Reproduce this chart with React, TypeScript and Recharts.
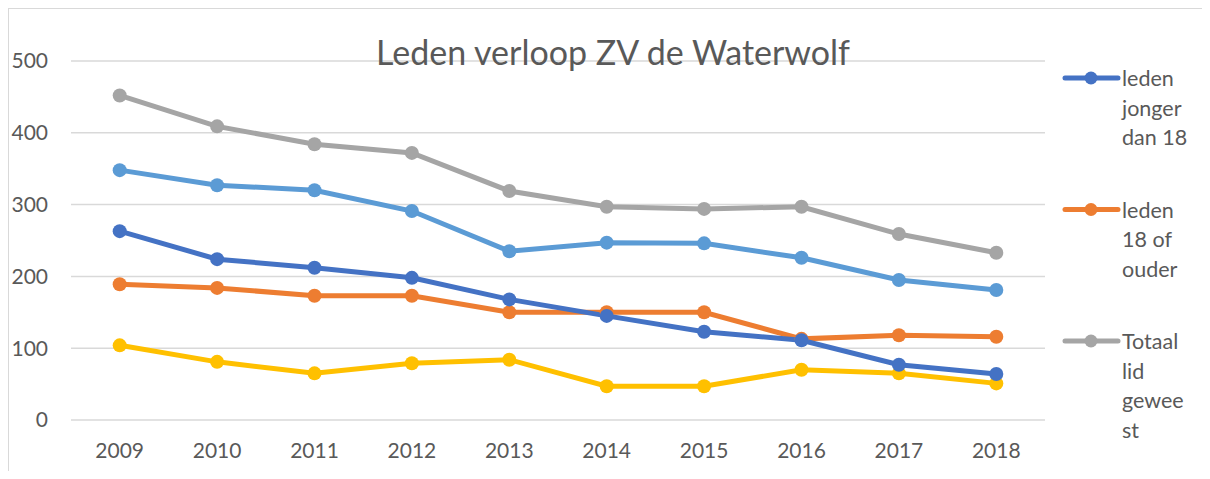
import { LineChart, Line, XAxis, YAxis, CartesianGrid, Legend } from "recharts";

const years = ["2009", "2010", "2011", "2012", "2013", "2014", "2015", "2016", "2017", "2018"];
const ledenJonger = [263, 224, 212, 198, 168, 145, 123, 111, 77, 64];
const leden18 = [189, 184, 173, 173, 150, 150, 150, 113, 118, 116];
const totaal = [452, 409, 384, 372, 319, 297, 294, 297, 259, 233];
const lichtblauw = [348, 327, 320, 291, 235, 247, 246, 226, 195, 181];
const geel = [104, 81, 65, 79, 84, 47, 47, 70, 65, 51];
const yTicks = [0, 100, 200, 300, 400, 500];

// legend labels wrap like the original
const legendLines: Record<string, string[]> = {
  jonger: ["leden", "jonger", "dan 18"],
  ouder: ["leden", "18 of", "ouder"],
  totaal: ["Totaal", "lid", "gewee", "st"],
};

const data = years.map((year, i) => ({
  year,
  jonger: ledenJonger[i],
  ouder: leden18[i],
  totaal: totaal[i],
  lichtblauw: lichtblauw[i],
  geel: geel[i],
}));

const FONT = "Lato, 'Open Sans', sans-serif";
const TEXT = "#595959";

const renderLegend = (props: any) => {
  const items = (props.payload || []).filter((p: any) => p.type !== "none");
  return (
    <svg width={150} height={400} style={{ display: "block" }}>
      {items.map((p: any, i: number) => {
        const cy = 18 + i * 131.5;
        const lines = legendLines[p.dataKey] || [p.value];
        return (
          <g key={p.dataKey}>
            <line x1={10} x2={63} y1={cy} y2={cy} stroke={p.color} strokeWidth={5} strokeLinecap="round" />
            <circle cx={36} cy={cy} r={6.5} fill={p.color} />
            {lines.map((t, j) => (
              <text
                key={j}
                x={67}
                y={cy + j * 29.5}
                dominantBaseline="central"
                fontFamily={FONT}
                fontSize={21.5}
                fill={TEXT}
              >
                {t}
              </text>
            ))}
          </g>
        );
      })}
    </svg>
  );
};

const series = [
  { key: "geel", color: "#FFC000", legend: false },
  { key: "ouder", color: "#ED7D31", legend: true },
  { key: "jonger", color: "#4472C4", legend: true },
  { key: "lichtblauw", color: "#5B9BD5", legend: false },
  { key: "totaal", color: "#A5A5A5", legend: true },
];

const legendOrder = ["jonger", "ouder", "totaal"];

export default function App() {
  return (
    <div style={{ position: "relative", width: 1202, height: 463, overflow: "hidden" }}>
      <div
        style={{
          position: "absolute",
          left: 0,
          top: 0,
          width: 1300,
          height: 600,
          borderLeft: "1px solid #d9d9d9",
          borderTop: "1px solid #d9d9d9",
          boxSizing: "border-box",
        }}
      />
      <LineChart
        width={1202}
        height={463}
        data={data}
        margin={{ top: 53, right: 15, left: 0, bottom: 11 }}
        style={{ position: "absolute", left: 0, top: 0 }}
      >
        <CartesianGrid vertical={false} stroke="#d9d9d9" strokeWidth={1.5} />
        <XAxis
          dataKey="year"
          axisLine={false}
          tickLine={false}
          tickSize={0}
          tickMargin={23}
          height={40}
          padding={{ left: 48.7, right: 48.7 }}
          tick={{ fill: TEXT, fontSize: 21, fontFamily: FONT }}
        />
        <YAxis
          domain={[0, 500]}
          ticks={yTicks}
          axisLine={false}
          tickLine={false}
          tickSize={0}
          tickMargin={23}
          width={63}
          tick={{ fill: TEXT, fontSize: 21, fontFamily: FONT }}
        />
        <Legend
          content={renderLegend}
          layout="vertical"
          align="right"
          verticalAlign="top"
          payload={legendOrder.map((k) => {
            const s = series.find((x) => x.key === k)!;
            return { value: k, dataKey: k, color: s.color, type: "line" } as any;
          })}
          wrapperStyle={{ position: "absolute", left: 1047, top: 52, width: 150 }}
        />
        {series.map((s) => (
          <Line
            key={s.key}
            dataKey={s.key}
            stroke={s.color}
            strokeWidth={5}
            dot={{ r: 7, fill: s.color, stroke: s.color, strokeWidth: 0 }}
            legendType={s.legend ? "line" : "none"}
            isAnimationActive={false}
          />
        ))}
        <text
          x={605}
          y={57}
          textAnchor="middle"
          fontFamily={FONT}
          fontSize={34}
          fill={TEXT}
        >
          Leden verloop ZV de Waterwolf
        </text>
      </LineChart>
    </div>
  );
}
